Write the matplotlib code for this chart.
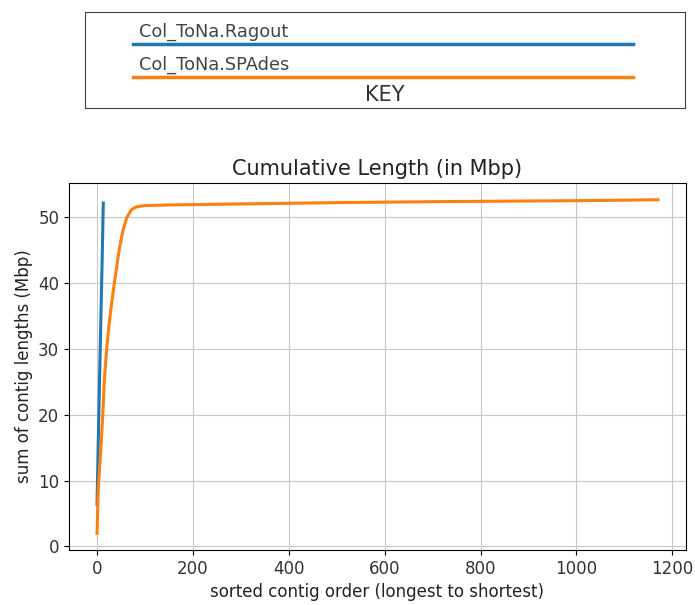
import matplotlib
matplotlib.use("Agg")
import matplotlib.pyplot as plt

# Data (Mbp cumulative lengths)
labels = ["Col_ToNa.Ragout", "Col_ToNa.SPAdes"]
colors = ["#1f77b4", "#ff7f0e"]

ragout_x = [0, 1, 2, 3, 4, 5, 6, 7, 8, 9, 10, 11, 12, 13]
ragout_y = [6.4, 10.2, 13.9, 17.5, 21.0, 24.5, 27.9, 31.3, 34.7, 38.0, 41.4, 44.8, 48.5, 52.2]

spades_x = [0, 2, 3.5, 8, 12, 15, 20, 27, 36, 46, 54, 62, 72, 82, 93, 100, 150, 200, 300, 400, 500, 600, 700, 800, 900, 1000, 1100, 1170]
spades_y = [2.0, 7.5, 10.0, 15.0, 20.0, 25.0, 30.0, 35.0, 40.0, 45.0, 48.0, 50.0, 51.2, 51.6, 51.75, 51.8, 51.9, 51.95, 52.05, 52.15, 52.25, 52.32, 52.4, 52.45, 52.5, 52.55, 52.62, 52.7]

fig = plt.figure(figsize=(6.95, 6.05), dpi=100)

# Key box
kax = fig.add_axes([85 / 695, 1 - 108 / 605, 600 / 695, 96 / 605])
kax.set_xlim(0, 1)
kax.set_ylim(0, 1)
kax.set_xticks([])
kax.set_yticks([])
for s in kax.spines.values():
    s.set_color("#444444")
key_rows = [0.67, 0.32]
for lab, col, yy in zip(labels, colors, key_rows):
    kax.plot([0.08, 0.913], [yy, yy], color=col, lw=2.5)
    kax.text(0.09, yy + 0.03, lab, fontsize=12.8, color="#444444", va="bottom", ha="left")
kax.text(0.5, 0.03, "KEY", fontsize=15, color="#333333", ha="center", va="bottom")

# Main plot
ax = fig.add_axes([69 / 695, 1 - 550 / 605, 617 / 695, 367 / 605])
ax.plot(ragout_x, ragout_y, color=colors[0], lw=2.2, label=labels[0])
ax.plot(spades_x, spades_y, color=colors[1], lw=2.2, label=labels[1])
ax.grid(True, color="#c8c8c8")
ax.set_title("Cumulative Length (in Mbp)", fontsize=15, color="#222222")
ax.set_xlabel("sorted contig order (longest to shortest)", fontsize=12, color="#222222")
ax.set_ylabel("sum of contig lengths (Mbp)", fontsize=12, color="#222222")
ax.set_yticks([0, 10, 20, 30, 40, 50])
ax.tick_params(labelsize=12, labelcolor="#333333")

fig.savefig("out.png", dpi=100)
